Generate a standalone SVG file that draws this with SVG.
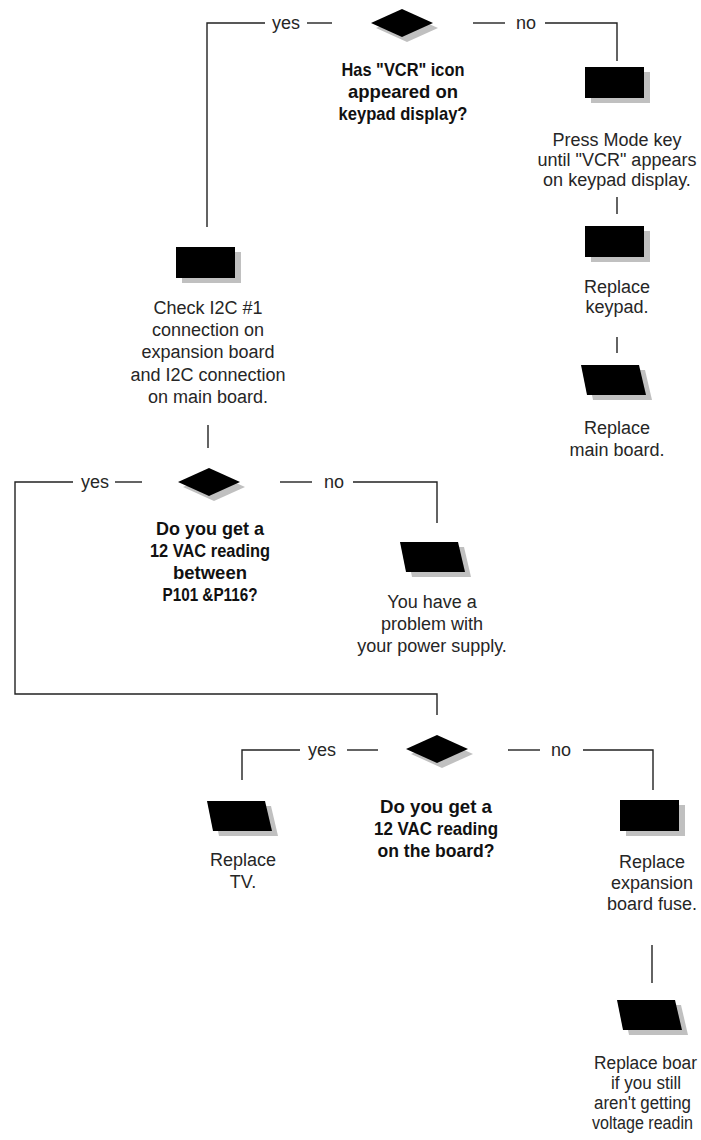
<svg xmlns="http://www.w3.org/2000/svg" xmlns:xlink="http://www.w3.org/1999/xlink" width="701" height="1140" viewBox="0 0 701 1140">
  <style>
    .bg { fill: #ffffff; }
    .shape { fill: #000000; }
    .shadow { fill: #c0c0c0; }
    .line { fill: none; stroke: #222222; stroke-width: 1.4; }
    .body { font-family: "Liberation Sans", Arial, sans-serif; font-size: 18px; fill: #262626; text-anchor: middle; }
    .q { font-family: "Liberation Sans", Arial, sans-serif; font-size: 19px; font-weight: bold; fill: #111111; text-anchor: middle; }
    .lbl { font-family: "Liberation Sans", Arial, sans-serif; font-size: 18px; fill: #262626; text-anchor: middle; }
    .start { text-anchor: start; }
  </style>
  <defs>
    <!-- process box with drop shadow -->
    <g id="box">
      <rect class="shadow" x="6" y="5" width="59" height="31"/>
      <rect class="shape" x="0" y="0" width="59" height="31"/>
    </g>
    <!-- decision diamond with drop shadow -->
    <g id="diamond">
      <polygon class="shadow" points="5,19 36,5 67,19 36,33"/>
      <polygon class="shape" points="0,14 31,0 62,14 31,28"/>
    </g>
    <!-- slanted action block with drop shadow -->
    <g id="slant">
      <polygon class="shadow" points="6,5 64,5 71,35 12,35"/>
      <polygon class="shape" points="0,0 58,0 65,30 6,30"/>
    </g>
  </defs>

  <rect class="bg" x="0" y="0" width="701" height="1140"/>

  <!-- connectors -->
  <g id="connectors">
    <path class="line" d="M207,227 V23 H265"/>
    <path class="line" d="M307,23 H332"/>
    <path class="line" d="M473,23 H505"/>
    <path class="line" d="M545,23 H617 V61"/>
    <path class="line" d="M617,197 V214"/>
    <path class="line" d="M617,337 V353"/>
    <path class="line" d="M208,425 V448"/>
    <path class="line" d="M73,482 H15 V694 H437 V715"/>
    <path class="line" d="M115,482 H142"/>
    <path class="line" d="M280,482 H312"/>
    <path class="line" d="M353,482 H437 V523"/>
    <path class="line" d="M300,750 H242 V780"/>
    <path class="line" d="M347,750 H378"/>
    <path class="line" d="M508,750 H540"/>
    <path class="line" d="M583,750 H653 V790"/>
    <path class="line" d="M652,945 V983"/>
    <text class="lbl" x="286" y="29">yes</text>
    <text class="lbl" x="526" y="29">no</text>
    <text class="lbl" x="95" y="488">yes</text>
    <text class="lbl" x="334" y="488">no</text>
    <text class="lbl" x="322" y="756">yes</text>
    <text class="lbl" x="561" y="756">no</text>
  </g>

  <!-- decision: VCR icon -->
  <g id="q-vcr-icon">
    <use xlink:href="#diamond" x="371" y="9"/>
    <text class="q" x="403" y="76" textLength="123" lengthAdjust="spacingAndGlyphs">Has "VCR" icon</text>
    <text class="q" x="403" y="98" textLength="110" lengthAdjust="spacingAndGlyphs">appeared on</text>
    <text class="q" x="403" y="120" textLength="129" lengthAdjust="spacingAndGlyphs">keypad display?</text>
  </g>

  <g id="press-mode">
    <use xlink:href="#box" x="585" y="67"/>
    <text class="body" x="617" y="146">Press Mode key</text>
    <text class="body" x="617" y="166">until "VCR" appears</text>
    <text class="body" x="617" y="186">on keypad display.</text>
  </g>

  <g id="replace-keypad">
    <use xlink:href="#box" x="585" y="226"/>
    <text class="body" x="617" y="293">Replace</text>
    <text class="body" x="617" y="313">keypad.</text>
  </g>

  <g id="replace-main-board">
    <use xlink:href="#slant" x="581" y="365"/>
    <text class="body" x="617" y="434">Replace</text>
    <text class="body" x="617" y="456">main board.</text>
  </g>

  <g id="check-i2c">
    <use xlink:href="#box" x="176" y="247"/>
    <text class="body" x="208" y="314">Check I2C #1</text>
    <text class="body" x="208" y="336">connection on</text>
    <text class="body" x="208" y="358">expansion board</text>
    <text class="body" x="208" y="381">and I2C connection</text>
    <text class="body" x="208" y="403">on main board.</text>
  </g>

  <!-- decision: 12 VAC between P101 and P116 -->
  <g id="q-p101-p116">
    <use xlink:href="#diamond" x="178" y="468"/>
    <text class="q" x="210" y="535" textLength="108" lengthAdjust="spacingAndGlyphs">Do you get a</text>
    <text class="q" x="210" y="557" textLength="120" lengthAdjust="spacingAndGlyphs">12 VAC reading</text>
    <text class="q" x="210" y="579" textLength="74" lengthAdjust="spacingAndGlyphs">between</text>
    <text class="q" x="210" y="601" textLength="95" lengthAdjust="spacingAndGlyphs">P101 &amp;P116?</text>
  </g>

  <g id="power-supply">
    <use xlink:href="#slant" x="400" y="542"/>
    <text class="body" x="432" y="608">You have a</text>
    <text class="body" x="432" y="630">problem with</text>
    <text class="body" x="432" y="652">your power supply.</text>
  </g>

  <!-- decision: 12 VAC on the board -->
  <g id="q-on-board">
    <use xlink:href="#diamond" x="406" y="735"/>
    <text class="q" x="436" y="813" textLength="112" lengthAdjust="spacingAndGlyphs">Do you get a</text>
    <text class="q" x="436" y="835" textLength="124" lengthAdjust="spacingAndGlyphs">12 VAC reading</text>
    <text class="q" x="436" y="857" textLength="117" lengthAdjust="spacingAndGlyphs">on the board?</text>
  </g>

  <g id="replace-tv">
    <use xlink:href="#slant" x="207" y="801"/>
    <text class="body" x="243" y="866">Replace</text>
    <text class="body" x="243" y="888">TV.</text>
  </g>

  <g id="replace-fuse">
    <use xlink:href="#box" x="620" y="800"/>
    <text class="body" x="652" y="868">Replace</text>
    <text class="body" x="652" y="889">expansion</text>
    <text class="body" x="652" y="910">board fuse.</text>
  </g>

  <g id="replace-board">
    <use xlink:href="#slant" x="617" y="1000"/>
    <text class="body start" x="594" y="1069" textLength="103" lengthAdjust="spacingAndGlyphs">Replace boar</text>
    <text class="body start" x="611" y="1089" textLength="70" lengthAdjust="spacingAndGlyphs">if you still</text>
    <text class="body start" x="594" y="1109" textLength="97" lengthAdjust="spacingAndGlyphs">aren't getting</text>
    <text class="body start" x="592" y="1129" textLength="101" lengthAdjust="spacingAndGlyphs">voltage readin</text>
  </g>
</svg>
